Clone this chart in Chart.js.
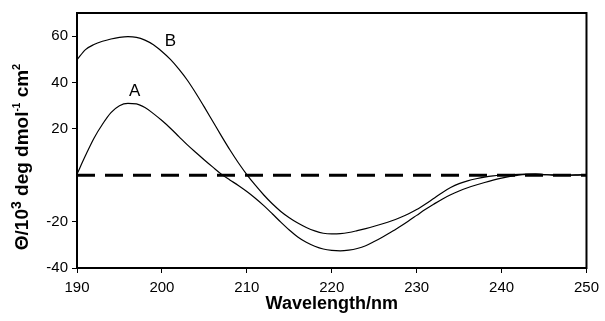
<!DOCTYPE html>
<html>
<head>
<meta charset="utf-8">
<script src="https://cdn.jsdelivr.net/npm/chart.js@4.4.1/dist/chart.umd.min.js"></script>
<style>
html, body { margin: 0; padding: 0; background: #fff; }
canvas { display: block; }
</style>
</head>
<body>
<canvas id="cdChart" width="605" height="321"></canvas>
<script>
// wavelength (nm) of every sampled point
var wavelength = [190, 191, 192, 193, 194, 195, 196, 197, 198, 199,
    200, 201, 202, 203, 204, 205, 206, 207, 208, 209,
    210, 211, 212, 213, 214, 215, 216, 217, 218, 219,
    220, 221, 222, 223, 224, 225, 226, 227, 228, 229,
    230, 231, 232, 233, 234, 235, 236, 237, 238, 239,
    240, 241, 242, 243, 244, 245, 246, 247, 248, 249, 250];

// mean residue ellipticity, 10^3 deg dmol-1 cm2
var spectrumA = [0.5, 8.5, 16, 22, 27, 30, 31, 30.8, 29.2, 26.6,
    23.6, 20.3, 16.7, 13.1, 9.8, 6.6, 3.5, 0.5, -2.0, -4.4,
    -7.0, -9.9, -13.1, -16.6, -20.2, -23.6, -26.6, -28.9, -30.6, -31.8,
    -32.4, -32.6, -32.3, -31.6, -30.4, -28.6, -26.6, -24.5, -22.2, -19.8,
    -17.3, -14.8, -12.5, -10.3, -8.4, -6.8, -5.4, -4.2, -3.1, -2.1,
    -1.2, -0.5, 0.1, 0.4, 0.5, 0.3, 0.1, 0, 0, 0.1, 0.2];

var spectrumB = [49.8, 54.2, 56.4, 57.8, 58.8, 59.5, 59.8, 59.5, 58.3, 56.3,
    53.4, 50, 45.8, 41, 35.4, 29.4, 23.2, 17, 11, 5.4,
    0.3, -4.3, -8.5, -12.3, -15.6, -18.3, -20.6, -22.5, -24, -25,
    -25.3, -25.2, -24.7, -23.9, -23, -22, -20.9, -19.7, -18.3, -16.7,
    -14.8, -12.5, -10, -7.5, -5.3, -3.6, -2.4, -1.5, -0.8, -0.3,
    0, 0.2, 0.4, 0.5, 0.5, 0.3, 0.2, 0.1, 0.1, 0.2, 0.3];

// dashed zero line
var baselineX = [190, 250];
var baselineY = [0, 0];

// axis ticks
var xTicks = [190, 200, 210, 220, 230, 240, 250];
var yTicks = [-40, -20, 20, 40, 60];

// curve names, placed in data coordinates
var curveNames = ['A', 'B'];
var curveNameX = [196.8, 201.0];
var curveNameY = [36.1, 57.9];

var FONT = 'Liberation Sans, Arial, Helvetica, sans-serif';

// y title pieces: text, size, raise
var yTitle = [
    ['\u0398/10', 19, 0], ['3', 14, 7], [' deg dmol', 19, 0],
    ['-1', 10, 8], [' cm', 19, 0], ['2', 11, 8]
];

function points(xs, ys) {
    return xs.map(function(x, i) { return { x: x, y: ys[i] }; });
}

var curveDefaults = {
    borderColor: '#000',
    borderWidth: 1.2,
    pointRadius: 0,
    fill: false,
    cubicInterpolationMode: 'monotone'
};

// frame, axis titles and the A / B labels
var extras = {
    id: 'extras',
    afterDatasetsDraw: function(chart) {
        var ctx = chart.ctx;
        var area = chart.chartArea;
        var xs = chart.scales.x, ys = chart.scales.y;
        ctx.save();
        ctx.strokeStyle = '#000';
        ctx.lineWidth = 2;
        ctx.strokeRect(area.left, area.top, area.right - area.left, area.bottom - area.top);

        ctx.fillStyle = '#000';
        ctx.textAlign = 'center';
        ctx.textBaseline = 'middle';
        ctx.font = '17px ' + FONT;
        curveNames.forEach(function(name, i) {
            ctx.fillText(name, xs.getPixelForValue(curveNameX[i]), ys.getPixelForValue(curveNameY[i]));
        });

        ctx.font = 'bold 18px ' + FONT;
        ctx.fillText('Wavelength/nm', (area.left + area.right) / 2, 304);

        // rotated y title, drawn piece by piece for the superscripts
        ctx.translate(21, 157);
        ctx.rotate(-Math.PI / 2);
        ctx.textAlign = 'left';
        ctx.textBaseline = 'alphabetic';
        var total = 0;
        yTitle.forEach(function(p) {
            ctx.font = 'bold ' + p[1] + 'px ' + FONT;
            total += ctx.measureText(p[0]).width;
        });
        var x = -total / 2;
        yTitle.forEach(function(p) {
            ctx.font = 'bold ' + p[1] + 'px ' + FONT;
            ctx.fillText(p[0], x, 7 - p[2]);
            x += ctx.measureText(p[0]).width;
        });
        ctx.restore();
    }
};

new Chart(document.getElementById('cdChart').getContext('2d'), {
    type: 'line',
    data: {
        datasets: [
            Object.assign({}, curveDefaults, { label: 'A', data: points(wavelength, spectrumA) }),
            Object.assign({}, curveDefaults, { label: 'B', data: points(wavelength, spectrumB) }),
            {
                label: 'zero',
                data: points(baselineX, baselineY),
                borderColor: '#000',
                borderWidth: 3,
                borderDash: [18, 10],
                pointRadius: 0,
                fill: false
            }
        ]
    },
    plugins: [extras],
    options: {
        responsive: false,
        animation: false,
        events: [],
        layout: { padding: { top: 12, right: 13, left: 0, bottom: 0 } },
        plugins: {
            legend: { display: false },
            tooltip: { enabled: false }
        },
        scales: {
            x: {
                type: 'linear',
                min: 190,
                max: 250,
                afterBuildTicks: function(scale) {
                    scale.ticks = xTicks.map(function(v) { return { value: v }; });
                },
                afterFit: function(scale) { scale.height = 53; },
                border: { display: true, color: '#000', width: 2 },
                grid: { drawOnChartArea: false, color: '#000', tickLength: 5, tickWidth: 1 },
                ticks: {
                    color: '#000',
                    padding: 6,
                    maxRotation: 0,
                    font: { family: FONT, size: 15 }
                }
            },
            y: {
                type: 'linear',
                min: -40,
                max: 70,
                afterBuildTicks: function(scale) {
                    scale.ticks = yTicks.map(function(v) { return { value: v }; });
                },
                afterFit: function(scale) { scale.width = 77; },
                border: { display: true, color: '#000', width: 2 },
                grid: { drawOnChartArea: false, color: '#000', tickLength: 5, tickWidth: 1 },
                ticks: {
                    color: '#000',
                    padding: 4,
                    font: { family: FONT, size: 15 }
                }
            }
        }
    }
});
</script>
</body>
</html>
